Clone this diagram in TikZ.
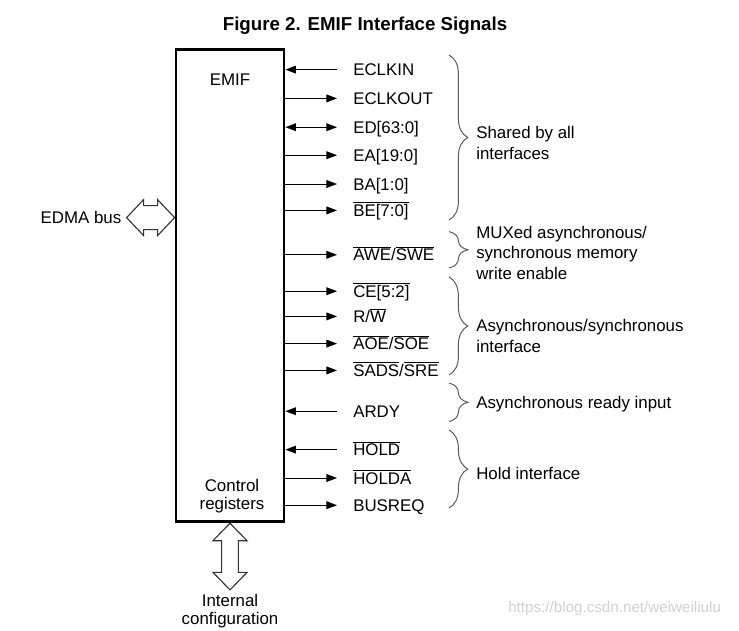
\documentclass[tikz,border=0pt]{standalone}
\usepackage{fontspec}
\setmainfont{Liberation Sans}
\usetikzlibrary{arrows.meta, positioning, decorations.pathreplacing}
\newcommand{\sigfont}{\fontsize{12}{14.5}\selectfont}
\newcommand{\sigbar}[1]{$\overline{\mbox{#1}}$}

\begin{document}
\begin{tikzpicture}[
            txt/.style={font=\sigfont, text height=8.6pt, text depth=0pt, inner sep=0pt},
            sig/.style={txt, anchor=west, inner xsep=0.4cm},
            note/.style={font=\sigfont, anchor=west, inner sep=0pt, align=left},
            sigarrow/.style={-{Triangle[length=7.5pt, width=5.5pt]}, line width=0.7pt},
            sigboth/.style={{Triangle[length=7.5pt, width=5.5pt]}-{Triangle[length=7.5pt, width=5.5pt]}, line width=0.7pt},
            grp/.style={decorate, decoration={brace, amplitude=0.47cm}, line width=0.7pt, black!65},
            hollow/.style={draw=black!80, line width=0.8pt, fill=white, line join=miter}
        ]
            \useasboundingbox (0,0) rectangle (18.475,-15.75);

            % Title
            \node[font=\fontsize{13.3}{16}\selectfont\bfseries, anchor=base] (title) at (9.125,-0.7675) {Figure 2. EMIF Interface Signals};

            % EMIF block
            \node[draw, line width=2pt, minimum width=2.7cm, minimum height=11.8cm, inner sep=0pt] (emif) at (5.75,-7.145) {};
            \node[font=\sigfont, anchor=base] (emifname) at (5.75,-2.125) {EMIF};
            \node[font=\fontsize{12}{13}\selectfont, align=center, inner sep=0pt] (ctrl) at (5.8,-12.41) {Control\\registers};

            % Signals
            \node[sig] (eclkin) at (8.425,-1.74) {ECLKIN};
            \node[sig] (eclkout) at (8.425,-2.46) {ECLKOUT};
            \node[sig] (ed) at (8.425,-3.18) {ED[63:0]};
            \node[sig] (ea) at (8.425,-3.88) {EA[19:0]};
            \node[sig] (ba) at (8.425,-4.6) {BA[1:0]};
            \node[sig] (be) at (8.425,-5.26) {\sigbar{BE[7:0]}};
            \node[sig] (awe) at (8.425,-6.37) {\sigbar{AWE}/\sigbar{SWE}};
            \node[sig] (ce) at (8.425,-7.28) {\sigbar{CE[5:2]}};
            \node[sig] (rw) at (8.425,-7.91) {R/\sigbar{W}};
            \node[sig] (aoe) at (8.425,-8.59) {\sigbar{AOE}/\sigbar{SOE}};
            \node[sig] (sads) at (8.425,-9.26) {\sigbar{SADS}/\sigbar{SRE}};
            \node[sig] (ardy) at (8.425,-10.28) {ARDY};
            \node[sig] (hold) at (8.425,-11.24) {\sigbar{HOLD}};
            \node[sig] (holda) at (8.425,-11.95) {\sigbar{HOLDA}};
            \node[sig] (busreq) at (8.425,-12.63) {BUSREQ};

            % Arrows
            \draw[sigarrow] (eclkin.west) -- (emif.east |- eclkin.west);
            \draw[sigarrow] (emif.east |- eclkout.west) -- (eclkout.west);
            \draw[sigboth] (emif.east |- ed.west) -- (ed.west);
            \draw[sigarrow] (emif.east |- ea.west) -- (ea.west);
            \draw[sigarrow] (emif.east |- ba.west) -- (ba.west);
            \draw[sigarrow] (emif.east |- be.west) -- (be.west);
            \draw[sigarrow] (emif.east |- awe.west) -- (awe.west);
            \draw[sigarrow] (emif.east |- ce.west) -- (ce.west);
            \draw[sigarrow] (emif.east |- rw.west) -- (rw.west);
            \draw[sigarrow] (emif.east |- aoe.west) -- (aoe.west);
            \draw[sigarrow] (emif.east |- sads.west) -- (sads.west);
            \draw[sigarrow] (ardy.west) -- (emif.east |- ardy.west);
            \draw[sigarrow] (hold.west) -- (emif.east |- hold.west);
            \draw[sigarrow] (emif.east |- holda.west) -- (holda.west);
            \draw[sigarrow] (emif.east |- busreq.west) -- (busreq.west);

            % Groups
            \draw[grp] (11.225,-1.375) -- (11.225,-5.5);
            \draw[grp] (11.225,-5.79) -- (11.225,-6.7);
            \draw[grp] (11.225,-6.925) -- (11.225,-9.375);
            \draw[grp] (11.225,-9.575) -- (11.225,-10.54);
            \draw[grp] (11.225,-10.75) -- (11.225,-12.7);

            \node[note] (shared) at (11.9,-3.575) {Shared by all\\interfaces};
            \node[note] (muxed) at (11.9,-6.315) {MUXed asynchronous/\\synchronous memory\\write enable};
            \node[note] (async) at (11.9,-8.4) {Asynchronous/synchronous\\interface};
            \node[note] (ready) at (11.9,-10.115) {Asynchronous ready input};
            \node[note] (holdif) at (11.9,-11.845) {Hold interface};

            % EDMA bus
            \node[txt, anchor=east] (edma) at (3.04,-5.44) {EDMA bus};
            \draw[hollow] (emif.west |- edma.east) -- ++(-0.425,0.45) -- ++(0,-0.15) -- ++(-0.35,0) -- ++(0,0.15)
                -- ++(-0.425,-0.45) -- ++(0.425,-0.45) -- ++(0,0.15) -- ++(0.35,0) -- ++(0,-0.15) -- cycle;

            % Internal configuration
            \draw[hollow] (emif.south) -- ++(0.425,-0.4375) -- ++(-0.215,0) -- ++(0,-0.7925) -- ++(0.215,0)
                -- ++(-0.425,-0.4375) -- ++(-0.425,0.4375) -- ++(0.215,0) -- ++(0,0.7925) -- ++(-0.215,0) -- cycle;
            \node[font=\fontsize{12}{13}\selectfont, align=center, inner sep=0pt, anchor=north, below=1.76cm of emif.south] (intcfg) {Internal\\configuration};

            \node[anchor=west, inner sep=0pt, text=black!18, font=\fontsize{10.8}{13}\selectfont] (wmark) at (12.7,-15.225) {https://blog.csdn.net/weiweiliulu};
        \end{tikzpicture}
\end{document}
